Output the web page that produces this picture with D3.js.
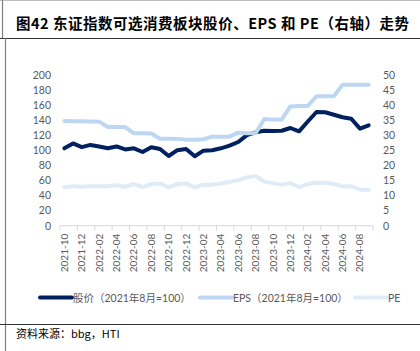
<!DOCTYPE html>
<html>
<head>
<meta charset="utf-8">
<script src="https://cdn.jsdelivr.net/npm/d3@7"></script>
<style>
  body { margin: 0; background: #fff; }
  svg { display: block; }
</style>
</head>
<body>
<div class="chart"></div>
<script>
// 月份类别
const months = ["2021-10","2021-11","2021-12","2022-01","2022-02","2022-03","2022-04","2022-05","2022-06",
  "2022-07","2022-08","2022-09","2022-10","2022-11","2022-12","2023-01","2023-02","2023-03","2023-04",
  "2023-05","2023-06","2023-07","2023-08","2023-09","2023-10","2023-11","2023-12","2024-01","2024-02",
  "2024-03","2024-04","2024-05","2024-06","2024-07","2024-08","2024-09"]
// 股价（2021年8月=100）
const price = [102.5,109,104,107,105,102.5,105,101,102.5,97.6,104,101.6,
  92.3,100,101.6,92,99.4,100,102.5,106,110.9,120,123.7,125.8,
  125.4,125.8,129.4,125,138,150.6,150.2,147,143.6,141.7,128.5,133]
// EPS（2021年8月=100）
const eps = [138.7,138.5,138.2,138,137.8,130.7,130.7,130.7,122.4,122.4,122.2,115.2,
  115.2,115,114,114,114.5,117.9,117.9,117.9,123.2,122.4,122.4,141.3,
  140.5,140.6,158,158.5,158.5,171.4,171.4,171.4,186.8,186.8,186.8,186.8]
// PE（右轴）
const pe = [12.7,13.1,12.9,13.1,13.1,13.1,13.4,12.9,13.8,12.8,13.8,14.0,
  12.7,13.8,14.0,12.7,13.6,13.6,14.0,14.5,15.1,16.0,16.5,14.6,
  14.1,13.6,14.1,12.8,13.8,14.2,14.2,13.8,13.0,13.1,11.9,11.9]
const leftTicks = [0,20,40,60,80,100,120,140,160,180,200]
const rightTicks = [0,5,10,15,20,25,30,35,40,45,50]
const legendNames = ["股价（2021年8月=100）", "EPS（2021年8月=100）", "PE"]

const width = 420, height = 351
const gray = "#595959"
const cjk = "'Noto Sans CJK SC', sans-serif"
const latin = "Lato, 'Noto Sans CJK SC', sans-serif"

let svg = d3.select(".chart").append("svg")
  .attr("width", width).attr("height", height)

// 边框线
svg.append("line").attr("x1", 0).attr("x2", width).attr("y1", 0.5).attr("y2", 0.5)
  .attr("stroke", "#bfbfbf").attr("stroke-width", 1)
svg.append("line").attr("x1", 2.5).attr("x2", 2.5).attr("y1", 0).attr("y2", 38)
  .attr("stroke", "#7f7f7f").attr("stroke-width", 1.2)
svg.append("line").attr("x1", 0).attr("x2", width).attr("y1", 38.5).attr("y2", 38.5)
  .attr("stroke", "#333").attr("stroke-width", 1.2)
svg.append("line").attr("x1", 5.5).attr("x2", 5.5).attr("y1", 38).attr("y2", height)
  .attr("stroke", "#7f7f7f").attr("stroke-width", 1.2)
svg.append("line").attr("x1", 0).attr("x2", width).attr("y1", 324.5).attr("y2", 324.5)
  .attr("stroke", "#333").attr("stroke-width", 1.2)

// 标题
svg.append("text")
  .attr("x", 16).attr("y", 29)
  .attr("font-family", cjk).attr("font-weight", "bold").attr("font-size", 14.5)
  .attr("textLength", 393).attr("lengthAdjust", "spacing")
  .attr("fill", "#000")
  .text("图42 东证指数可选消费板块股价、EPS 和 PE（右轴）走势")

// 比例尺
let x = d3.scaleBand().domain(months).range([60, 373]).padding(0)
let cx = (d) => x(d) + x.bandwidth() / 2
let yL = d3.scaleLinear().domain([0, 200]).range([225.7, 74.7])
let yR = d3.scaleLinear().domain([0, 50]).range([225.7, 74.7])

// 左轴
let gL = svg.append("g").attr("transform", "translate(51,0)")
  .call(d3.axisLeft(yL).tickValues(leftTicks).tickSize(0).tickPadding(0))
gL.select(".domain").remove()
gL.selectAll("text").attr("fill", gray).attr("font-size", 10.5).attr("font-family", latin)

// 右轴
let gR = svg.append("g").attr("transform", "translate(383,0)")
  .call(d3.axisRight(yR).tickValues(rightTicks).tickSize(0).tickPadding(0))
gR.select(".domain").remove()
gR.selectAll("text").attr("fill", gray).attr("font-size", 10.5).attr("font-family", latin)

// X轴
let gX = svg.append("g").attr("transform", `translate(0,${yL(0)})`)
gX.append("line").attr("x1", 60).attr("x2", 373).attr("stroke", "#d9d9d9").attr("stroke-width", 1)
gX.selectAll("line.tick")
  .data(months.filter((d, i) => i % 2 == 0).concat(["end"]))
  .enter().append("line")
  .attr("class", "tick")
  .attr("x1", (d) => d == "end" ? 373 : x(d)).attr("x2", (d) => d == "end" ? 373 : x(d))
  .attr("y1", 0).attr("y2", 5)
  .attr("stroke", "#d9d9d9")
gX.selectAll("text")
  .data(months.filter((d, i) => i % 2 == 0))
  .enter().append("text")
  .attr("transform", (d) => `translate(${cx(d) + 3.5},8) rotate(-90)`)
  .attr("text-anchor", "end")
  .attr("font-size", 10).attr("font-family", latin).attr("fill", gray)
  .text((d) => d)

// 折线
let series = [
  { name: "PE", values: pe, y: yR, color: "#deebf9" },
  { name: "price", values: price, y: yL, color: "#002060" },
  { name: "EPS", values: eps, y: yL, color: "#bdd7f3" }
]
series.forEach((s) => {
  let line = d3.line().x((d, i) => cx(months[i])).y((d) => s.y(d))
  svg.append("path")
    .datum(s.values)
    .attr("d", line)
    .attr("fill", "none")
    .attr("stroke", s.color)
    .attr("stroke-width", 4)
    .attr("stroke-linejoin", "round")
    .attr("stroke-linecap", "round")
})

// 图例
let legendItems = [
  { name: legendNames[0], color: "#002060", x: 40 },
  { name: legendNames[1], color: "#bdd7f3", x: 200 },
  { name: legendNames[2], color: "#deebf9", x: 355 }
]
let legend = svg.append("g")
legendItems.forEach((d) => {
  legend.append("line")
    .attr("x1", d.x).attr("x2", d.x + 32).attr("y1", 297.5).attr("y2", 297.5)
    .attr("stroke", d.color).attr("stroke-width", 4).attr("stroke-linecap", "round")
  legend.append("text")
    .attr("x", d.x + 33).attr("y", 301.5)
    .attr("font-size", 10.5).attr("font-family", latin).attr("fill", gray)
    .text(d.name)
})

// 资料来源
svg.append("text")
  .attr("x", 16).attr("y", 338)
  .attr("font-size", 11).attr("font-family", cjk).attr("fill", "#000")
  .text("资料来源：bbg，HTI")
</script>
</body>
</html>
